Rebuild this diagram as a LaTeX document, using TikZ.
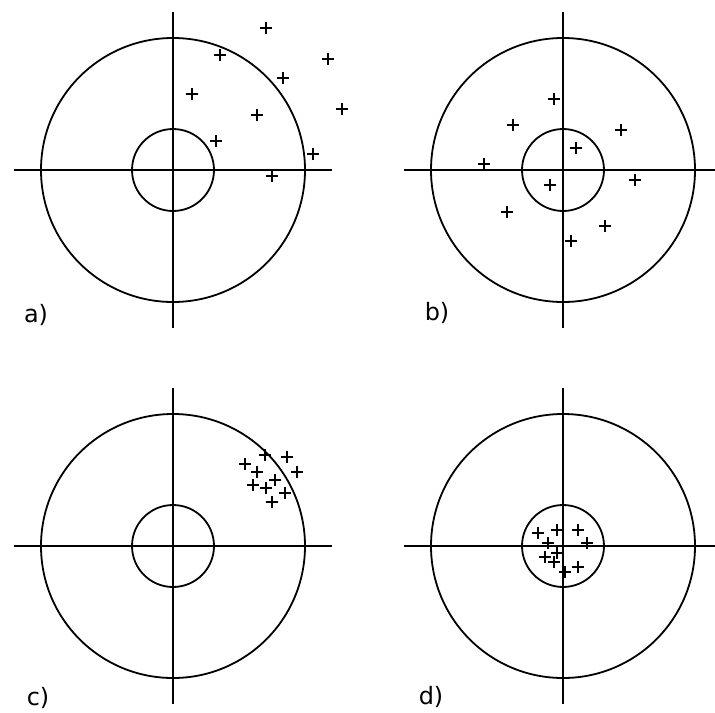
\documentclass[tikz,border=0pt]{standalone}
\usepackage{fontspec}
\setsansfont{DejaVu Sans}
\usepackage{tikz}

\begin{document}
\begin{tikzpicture}[
  x=1bp,y=-1bp,
  ring/.style={draw,line width=1.8bp},
  axisline/.style={line width=2bp},
  hit/.style={line width=1.5bp},
  tag/.style={font=\sffamily\fontsize{24}{24}\selectfont,inner sep=0pt}
]
  \useasboundingbox (0,0) rectangle (715,713);

  % centres of the four targets
  \coordinate (ca) at (173,170);
  \coordinate (cb) at (563,170);
  \coordinate (cc) at (173,546);
  \coordinate (cd) at (563,546);

  \foreach \c in {ca,cb,cc,cd} {
    \draw[ring] (\c) circle[radius=132];
    \draw[ring] (\c) circle[radius=41];
    \draw[axisline] (\c) ++(-159,0) -- ++(318,0);
    \draw[axisline] (\c) ++(0,-158) -- ++(0,316);
  }

  % shots
  \foreach \x/\y in {266/28,220/55,328/59,283/78,192/94,342/109,257/115,216/141,313/154,272/176,
                     554/99,513/125,621/130,576/148,484/164,635/180,550/185,507/212,605/226,571/241,
                     265/455,287/457,245/464,257/472,297/472,275/480,253/485,266/488,285/493,272/502,
                     557/530,538/533,578/530,587/543,548/543,545/557,557/553,554/562,578/567,565/572}
    \draw[hit] (\x-6,\y) -- (\x+6,\y) (\x,\y-6) -- (\x,\y+6);

  \node[tag] (taga) at (36,315) {a)};
  \node[tag] (tagb) at (437,313) {b)};
  \node[tag] (tagc) at (38,698) {c)};
  \node[tag] (tagd) at (431,697) {d)};
\end{tikzpicture}
\end{document}
